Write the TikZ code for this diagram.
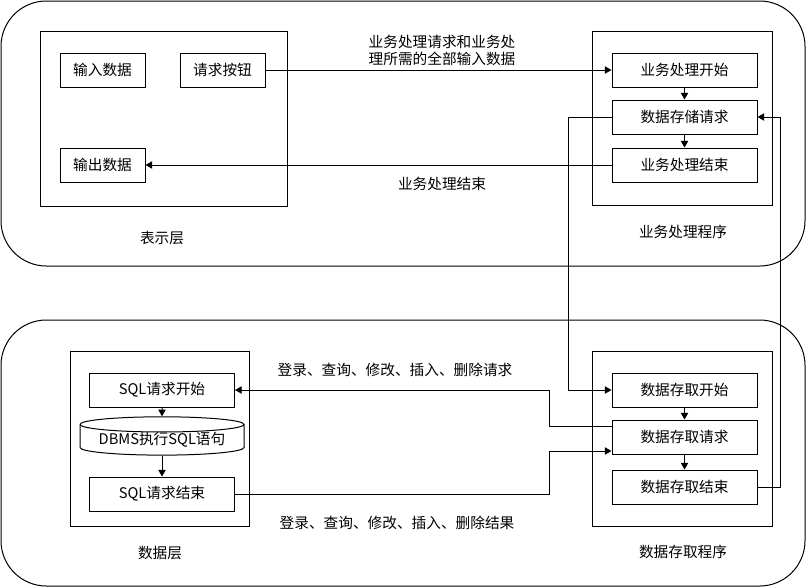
\documentclass[tikz,border=0pt]{standalone}
\usepackage{fontspec}
\setmainfont{Noto Sans CJK SC}
\usepackage{tikz}
\usetikzlibrary{calc,arrows.meta,shapes.geometric}
\tikzset{
  frame/.style={draw=black, line width=0.75pt, rounded corners=34pt},
  panel/.style={draw=black, line width=0.75pt},
  box/.style={draw=black, line width=0.75pt, minimum width=108.75pt, minimum height=25.5pt, inner sep=0pt, font=\fontsize{11}{13}\selectfont},
  sbox/.style={box, minimum width=63.75pt},
  db/.style={cylinder, shape border rotate=90, draw=black, line width=0.75pt, aspect=0.12, minimum width=123pt, minimum height=27pt, inner sep=0pt, font=\fontsize{11}{13}\selectfont},
  lab/.style={font=\fontsize{11}{12.75}\selectfont, align=center},
  conn/.style={draw=black, line width=0.75pt},
  arr/.style={conn, -{Triangle[length=5pt,width=5.5pt]}},
}
\begin{document}
\begin{tikzpicture}[x=0.75pt,y=-0.75pt]
  \useasboundingbox (0,0) rectangle (806,587);
  % two layers
  \draw[frame] (1,1) rectangle (805,266);
  \draw[frame] (1,320) rectangle (805,586);
  \draw[panel] (40,31) rectangle (287,206);
  \draw[panel] (592,31) rectangle (772,205);
  \draw[panel] (70,351) rectangle (249,526);
  \draw[panel] (592,351) rectangle (772,526);
  \node[lab] (showL) at (162,238) {表示层};
  \node[lab] (bizL) at (683,232) {业务处理程序};
  \node[lab] (dataL) at (160,553) {数据层};
  \node[lab] (accL) at (683,552) {数据存取程序};

  \node[sbox] (in) at (102.5,70) {输入数据};
  \node[sbox] (btn) at (222.5,70) {请求按钮};
  \node[sbox] (out) at (102.5,165) {输出数据};

  \node[box] (bstart) at (684.5,70) {业务处理开始};
  \node[box] (breq) at (684.5,117) {数据存储请求};
  \node[box] (bend) at (684.5,165) {业务处理结束};

  \node[box] (sqls) at (162,390) {SQL请求开始};
  \node[db] (dbms) at (162,440) {DBMS执行SQL语句};
  \node[box] (sqle) at (162,494) {SQL请求结束};

  \node[box] (dstart) at (684.5,390) {数据存取开始};
  \node[box] (dreq) at (684.5,437) {数据存取请求};
  \node[box] (dend) at (684.5,487) {数据存取结束};

  \draw[arr] (btn.east) -- (bstart.west);
  \draw[arr] (bend.west) -- (out.east);
  \node[lab] (reqT) at (442,50) {业务处理请求和业务处\\理所需的全部输入数据};
  \node[lab] (endT) at (442,184) {业务处理结束};

  \draw[arr] (bstart) -- (breq);
  \draw[arr] (breq) -- (bend);
  \draw[arr] (sqls) -- (dbms);
  \draw[arr] (dbms) -- (sqle);
  \draw[arr] (dstart) -- (dreq);
  \draw[arr] (dreq) -- (dend);

  % between the programs
  \coordinate (c1) at (568,117);
  \coordinate (c2) at (780,117);
  \draw[arr] (breq.west) -- (c1) |- (dstart.west);
  \draw[arr] (dend.east) -| (c2) -- (breq.east);

  % to and from the data layer
  \coordinate (q1) at ($(dreq.west)+(0,-11)$);
  \coordinate (q2) at ($(dreq.west)+(0,14)$);
  \draw[arr] (q1) -- ++(-62,0) |- (sqls.east);
  \draw[arr] (sqle.east) -| ($(q2)+(-62,0)$) -- (q2);
  \node[lab] (sqlT) at (395,370) {登录、查询、修改、插入、删除请求};
  \node[lab] (resT) at (397,523) {登录、查询、修改、插入、删除结果};
\end{tikzpicture}
\end{document}
